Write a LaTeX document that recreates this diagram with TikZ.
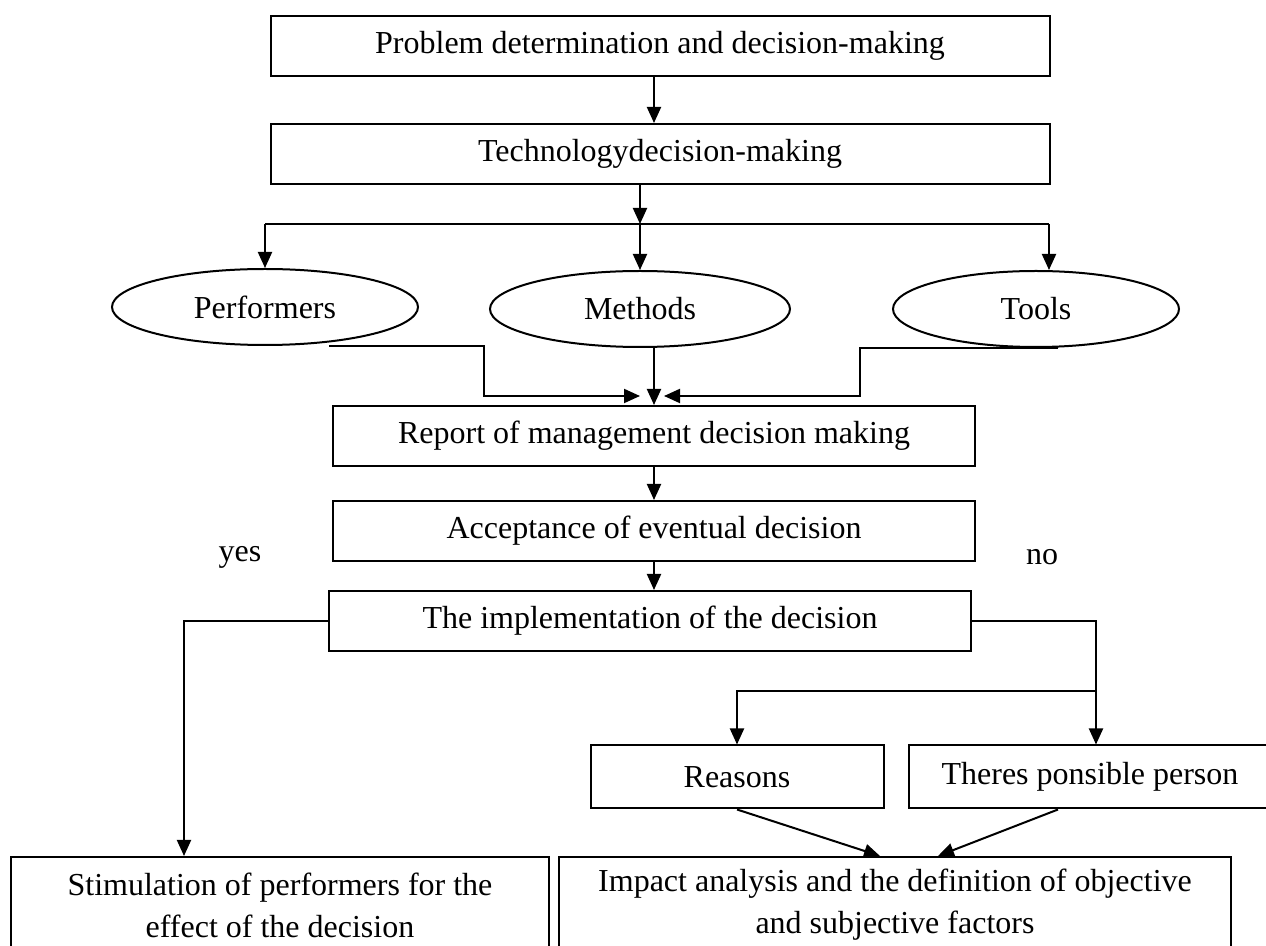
\documentclass[tikz,border=0pt]{standalone}
\usepackage{fontspec}
\setmainfont{Liberation Serif}
\usetikzlibrary{arrows.meta,shapes.geometric}

\begin{document}
\begin{tikzpicture}[x=0.5pt, y=-0.5pt, ->, >={Triangle[length=8pt,width=7pt]}, line width=1pt, font=\fontsize{16}{21}\selectfont]
    \tikzstyle{block}=[draw=black, rectangle, inner sep=0pt, align=center, minimum height=30pt]
    \tikzstyle{oval}=[draw=black, ellipse, inner sep=0pt, minimum height=38pt]
    \tikzstyle{answer}=[inner sep=0pt]

    \useasboundingbox (0,0) rectangle (1266,946);

    % Draw the top blocks
    \node[block, minimum width=389.5pt] (Problem) at (660,46) {Problem determination and decision-making};
    \node[block, minimum width=389.5pt] (Tech) at (660,154) {Technologydecision-making};
    % Draw the three ellipses
    \node[oval, minimum width=153pt] (Performers) at (265,307) {Performers};
    \node[oval, minimum width=150pt] (Methods) at (640,309) {Methods};
    \node[oval, minimum width=143pt] (Tools) at (1036,309) {Tools};
    % Draw the middle blocks
    \node[block, minimum width=321pt] (Report) at (654,436) {Report of management decision making};
    \node[block, minimum width=321pt] (Accept) at (654,531) {Acceptance of eventual decision};
    \node[block, minimum width=321pt] (Impl) at (650,621) {The implementation of the decision};
    \node[answer] (Yes) at (240,557) {yes};
    \node[answer] (No) at (1042,557) {no};
    % Draw the lower blocks
    \node[block, minimum width=146.5pt, minimum height=31.5pt] (Reasons) at (737,777) {Reasons};
    \node[block, minimum width=181.5pt, minimum height=31.5pt] (Person) at (1090,777) {Theres ponsible person};
    \node[block, minimum width=269pt, minimum height=48pt] (Stim) at (280,905) {Stimulation of performers for the\\effect of the decision};
    \node[block, minimum width=336pt, minimum height=48pt] (Impact) at (895,905) {Impact analysis and the definition of objective\\and subjective factors};

    % Bends of the connectors
    \coordinate (Fork) at (640,224);
    \coordinate (ForkR) at (1049,224);
    \coordinate (InL) at (640,396);
    \coordinate (InR) at (664,396);
    \coordinate (YesTurn) at (184,621);
    \coordinate (NoTurn) at (1096,621);
    \coordinate (NoSplit) at (1096,691);

    % Connect the top blocks with the ellipses
    \path (Problem.south -| Report.north) edge (Tech.north -| Report.north);
    \path (Tech.south -| Fork) edge (Fork);
    \draw[-] (Performers.north |- Fork) -- (ForkR);
    \path (Fork) edge (Methods.north);
    \path (Performers.north |- Fork) edge (Performers.north);
    \path (ForkR) edge (ForkR |- Tools.north);

    % Connect the ellipses with the report
    \draw ([xshift=32pt]Performers.south) -- ++(155,0) |- (InL);
    \path (Methods.south -| Report.north) edge (Report.north);
    \draw ([xshift=11pt]Tools.south) -- ++(-198,0) |- (InR);

    % Connect the decision blocks
    \path (Report) edge (Accept);
    \path (Accept.south) edge (Accept.south |- Impl.north);
    \draw (Impl.west) -- (YesTurn) -- (YesTurn |- Stim.north);
    \draw (Impl.east) -- (NoTurn) -- (NoTurn |- Person.north);
    \draw (NoSplit) -| (Reasons.north);
    \path (Reasons.south) edge ([xshift=-7.5pt]Impact.north);
    \path ([xshift=-16pt]Person.south) edge ([xshift=21.5pt]Impact.north);

\end{tikzpicture}
\end{document}
